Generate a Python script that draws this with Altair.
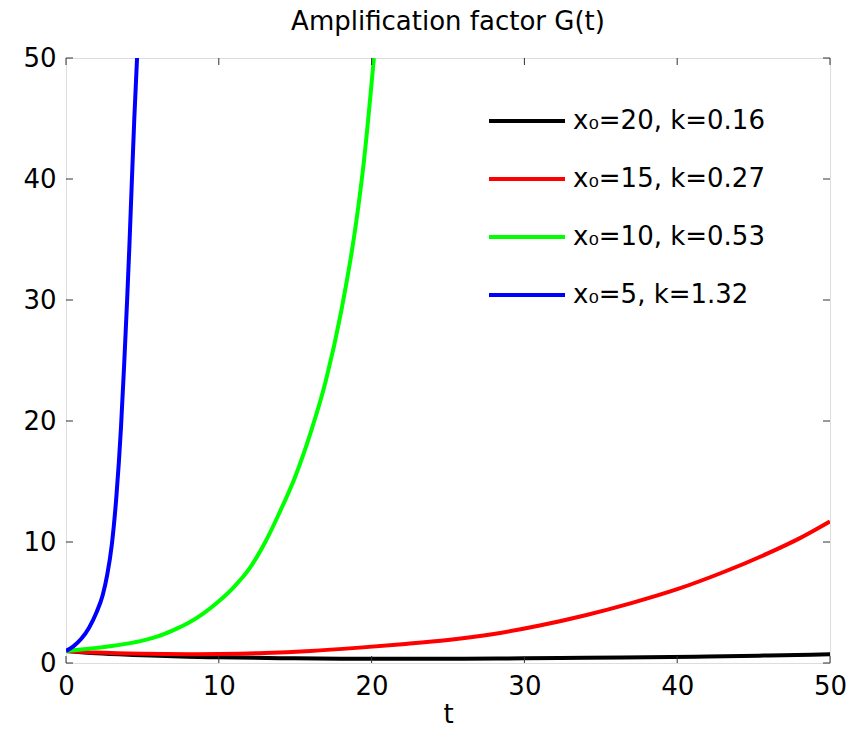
import altair as alt
import pandas as pd

# ---- data ----
labels = ["x₀=20, k=0.16", "x₀=15, k=0.27", "x₀=10, k=0.53", "x₀=5, k=1.32"]
colors = ["#000000", "#ff0000", "#00ff00", "#0000ff"]

t_black = [0, 2, 5, 8, 10, 14, 18, 22, 26, 30, 34, 38, 42, 46, 50]
g_black = [1.0, 0.8, 0.65, 0.52, 0.47, 0.4, 0.36, 0.35, 0.36, 0.39, 0.43, 0.48, 0.54, 0.62, 0.72]

t_red = [0, 2, 5, 8, 10, 13, 16, 19, 22, 25, 28, 31, 34, 37, 40, 43, 46, 48, 50]
g_red = [1.0, 0.86, 0.76, 0.73, 0.75, 0.83, 1.0, 1.25, 1.55, 1.9, 2.4, 3.1, 3.95, 4.95, 6.1, 7.5, 9.1, 10.3, 11.7]

t_green = [0, 1, 2, 3, 4, 5, 6, 7, 8, 9, 10, 11, 12, 13, 14, 15, 16, 17, 18, 19, 19.5, 20.15]
g_green = [1.0, 1.12, 1.25, 1.4, 1.6, 1.85, 2.2, 2.7, 3.3, 4.1, 5.1, 6.3, 7.8, 9.9, 12.5, 15.4, 19.0, 23.3, 29.0, 36.5, 41.5, 50.0]

t_blue = [0, 0.5, 1, 1.5, 2, 2.4, 2.7, 3.0, 3.3, 3.6, 3.8, 4.0, 4.15, 4.3, 4.47, 4.65]
g_blue = [1.0, 1.4, 2.0, 2.9, 4.2, 5.6, 7.3, 9.8, 13.8, 19.5, 24.5, 30.0, 34.5, 39.5, 45.0, 50.0]

x_ticks = [0, 10, 20, 30, 40, 50]
y_ticks = [0, 10, 20, 30, 40, 50]

rows = []
for lab, ts, gs in zip(labels, [t_black, t_red, t_green, t_blue], [g_black, g_red, g_green, g_blue]):
    for i, (t, g) in enumerate(zip(ts, gs)):
        rows.append({"t": t, "G": g, "series": lab, "order": i})
df = pd.DataFrame(rows)

FONT = "DejaVu Sans"
xs = alt.Scale(domain=[0, 50], nice=False)
ys = alt.Scale(domain=[0, 50], nice=False)

lines = alt.Chart(df).mark_line(strokeWidth=4, clip=True, interpolate="monotone").encode(
    x=alt.X("t:Q", scale=xs, title="t",
            axis=alt.Axis(values=x_ticks, ticks=False, domain=False, grid=False,
                          labelFlush=False,
                          labelFontSize=26, labelFont=FONT, labelColor="black",
                          labelPadding=10, titleFontSize=26, titleFont=FONT,
                          titleFontWeight="normal", titleColor="black", titlePadding=2)),
    y=alt.Y("G:Q", scale=ys, title=None,
            axis=alt.Axis(values=y_ticks, ticks=False, domain=False, grid=False,
                          labelFlush=False,
                          labelFontSize=26, labelFont=FONT, labelColor="black",
                          labelPadding=10)),
    color=alt.Color("series:N", sort=labels,
                    scale=alt.Scale(domain=labels, range=colors),
                    legend=alt.Legend(title=None, orient="none", legendX=421, legendY=23,
                                      symbolType="stroke", symbolSize=5776,
                                      symbolStrokeWidth=4, labelFontSize=26,
                                      labelFont=FONT, labelColor="black", labelLimit=0,
                                      labelOffset=6, rowPadding=5, padding=0)),
    order="order:Q",
)

# inward tick marks on all four sides (MATLAB box style)
tick_df_x = pd.DataFrame({"v": x_ticks})
tick_df_y = pd.DataFrame({"v": y_ticks})
tx_bottom = alt.Chart(tick_df_x).mark_rule(color="#333333", strokeWidth=1).encode(
    x=alt.X("v:Q", scale=xs), y=alt.value(605), y2=alt.value(598))
tx_top = alt.Chart(tick_df_x).mark_rule(color="#333333", strokeWidth=1).encode(
    x=alt.X("v:Q", scale=xs), y=alt.value(0), y2=alt.value(7))
ty_left = alt.Chart(tick_df_y).mark_rule(color="#333333", strokeWidth=1).encode(
    y=alt.Y("v:Q", scale=ys), x=alt.value(0), x2=alt.value(7))
ty_right = alt.Chart(tick_df_y).mark_rule(color="#333333", strokeWidth=1).encode(
    y=alt.Y("v:Q", scale=ys), x=alt.value(764), x2=alt.value(757))

chart = alt.layer(lines, tx_bottom, tx_top, ty_left, ty_right).properties(
    width=764, height=605,
    title=alt.Title("Amplification factor G(t)", fontSize=26, font=FONT,
                    fontWeight="normal", color="black", offset=10, anchor="middle"),
    autosize=alt.AutoSizeParams(type="none"),
    padding={"left": 58, "top": 50, "right": 26, "bottom": 67},
).configure_view(stroke="#222222", strokeWidth=1.5).configure(background="white")

chart.save("out.html", embed_options={"renderer": "svg", "actions": False})
